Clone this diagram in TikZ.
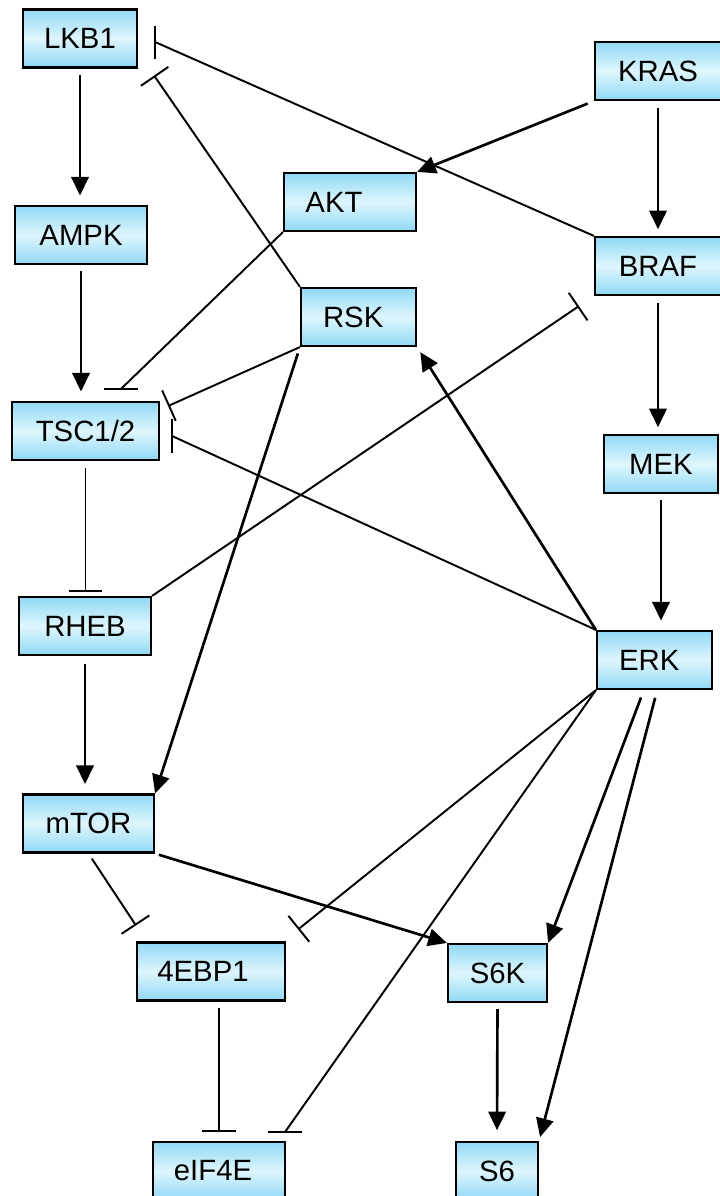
\documentclass[tikz,border=0pt]{standalone}
\usepackage{fontspec}
\setmainfont{Liberation Sans}
\usetikzlibrary{arrows.meta}
\definecolor{boxblue}{RGB}{145,216,245}
\definecolor{boxlight}{RGB}{222,246,253}
\tikzset{
    protein/.style={rectangle, draw=black, line width=1.6pt, inner sep=0pt,
        minimum height=43.5pt, top color=boxblue, bottom color=boxblue,
        middle color=boxlight, font=\fontsize{22}{26}\selectfont},
    wd/.style={minimum width=#1*0.75pt},
    act/.style={line width=2pt, -{Triangle[length=14pt,width=13pt]}},
    inh/.style={line width=1.45pt, -{Bar[width=25pt]}},
    barline/.style={line width=1.45pt}
}

\begin{document}
\begin{tikzpicture}[x=0.75pt,y=-0.75pt]
    \useasboundingbox (0,0) rectangle (719,1196);

    % proteins
    \node[protein, wd=114] (lkb1) at (80,38.5) {LKB1};
    \node[protein, wd=126] (kras) at (658,71) {KRAS};
    \node[protein, wd=132] (akt) at (350,202) {AKT\hspace{24pt}\mbox{}};
    \node[protein, wd=132] (ampk) at (81,235) {AMPK};
    \node[protein, wd=126] (braf) at (658,266) {BRAF};
    \node[protein, wd=115] (rsk) at (358.5,317) {RSK\hspace{8pt}\mbox{}};
    \node[protein, wd=147] (tsc) at (85.5,431) {TSC1/2};
    \node[protein, wd=114] (mek) at (661,464) {MEK};
    \node[protein, wd=132] (rheb) at (85,626) {RHEB};
    \node[protein, wd=115] (erk) at (654.5,660) {ERK\hspace{8pt}\mbox{}};
    \node[protein, wd=131] (mtor) at (88.5,823.5) {mTOR};
    \node[protein, wd=148] (ebp) at (211,971.5) {4EBP1\hspace{12pt}\mbox{}};
    \node[protein, wd=99] (s6k) at (497.5,973) {S6K};
    \node[protein, wd=132] (eif) at (219,1171) {eIF4E\hspace{9pt}\mbox{}};
    \node[protein, wd=82] (s6) at (497,1171) {S6};

    % where the flat bars sit
    \coordinate (lkbBar) at ([shift={(17,3.5)}]lkb1.east);
    \coordinate (tscBarA) at ([shift={(35.5,-12)}]tsc.north);
    \coordinate (tscBarB) at ([shift={(12,5)}]tsc.east);
    \coordinate (eifBar) at ([shift={(-1,-9)}]eif.north east);

    % activation
    \draw[act, shorten <=4.5pt, shorten >=7pt] (lkb1.south) -- (lkb1.south |- ampk.north);
    \draw[act, shorten <=4.5pt, shorten >=7pt] (ampk.south) -- (ampk.south |- tsc.north);
    \draw[act, shorten <=5pt] (kras.south west) -- (akt.north east);
    \draw[act, shorten <=5pt, shorten >=5pt] (kras.south) -- (braf.north);
    \draw[act, shorten <=5pt, shorten >=5pt] (braf.south) -- (braf.south |- mek.north);
    \draw[act, shorten <=4.5pt, shorten >=7pt] (mek.south) -- (mek.south |- erk.north);
    \draw[act, shorten >=4.5pt] (erk.north west) -- (rsk.south east);
    \draw[act, shorten <=5pt] (rsk.south west) -- (mtor.north east);
    \draw[act, shorten <=6pt, shorten >=7pt] (rheb.south) -- (rheb.south |- mtor.north);
    \draw[act, shorten <=3pt] (mtor.south east) -- (s6k.north west);
    \draw[act, shorten <=6pt] ([xshift=-8pt]erk.south) -- (s6k.north east);
    \draw[act, shorten <=6pt, shorten >=3pt] ([xshift=2pt]erk.south) -- (s6.north east);
    \draw[act, shorten <=4.5pt, shorten >=8pt] (s6k.south) -- (s6.north);

    % inhibition
    \draw[barline] (braf.north west) -- (lkbBar);
    \draw[barline] (lkbBar) ++(0,-16.5) -- ++(0,33);
    \draw[inh] (rsk.north west) -- ([shift={(16,7)}]lkb1.south east);
    \draw[barline] (akt.south west) -- (tscBarA);
    \draw[barline] (tscBarA) ++(-17,0) -- ++(34,0);
    \draw[inh] (rsk.south west) -- ([shift={(8,-25)}]tsc.east);
    \draw[barline] (erk.north west) -- (tscBarB);
    \draw[barline] (tscBarB) ++(0,-17) -- ++(0,34);
    \draw[inh, shorten <=5pt, shorten >=3pt] (tsc.south) -- (tsc.south |- rheb.north);
    \draw[inh] (rheb.north east) -- ([shift={(-15,10)}]braf.south west);
    \draw[inh, shorten <=4.5pt] (mtor.south) -- ([shift={(0,-16)}]ebp.north west);
    \draw[inh] (erk.south west) -- ([shift={(12,-12)}]ebp.north east);
    \draw[inh, shorten <=4.5pt, shorten >=6.75pt] (eif.north |- ebp.south) -- (eif.north);
    \draw[barline] (erk.south west) -- (eifBar);
    \draw[barline] (eifBar) ++(-17,0) -- ++(34,0);
\end{tikzpicture}
\end{document}
